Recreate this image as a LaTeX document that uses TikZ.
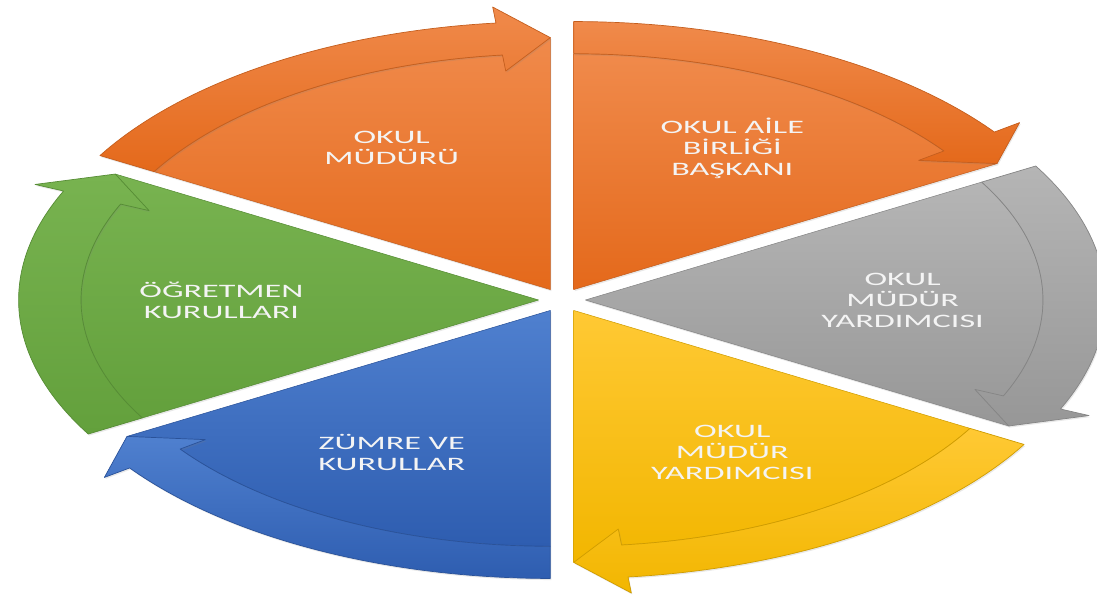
\documentclass[tikz,border=0pt]{standalone}
\usepackage{fontspec}
\usetikzlibrary{shadows}
\newfontfamily\wedgefont[FakeStretch=1.8]{Carlito}
\definecolor{or-top}{HTML}{F08A4B}\definecolor{or-bot}{HTML}{E4691B}\definecolor{or-line}{HTML}{C45E1E}
\definecolor{gy-top}{HTML}{B5B5B5}\definecolor{gy-bot}{HTML}{979797}\definecolor{gy-line}{HTML}{858585}
\definecolor{ye-top}{HTML}{FFC934}\definecolor{ye-bot}{HTML}{F2B600}\definecolor{ye-line}{HTML}{CF9C00}
\definecolor{bl-top}{HTML}{4F80CF}\definecolor{bl-bot}{HTML}{2E5DB0}\definecolor{bl-line}{HTML}{2A5299}
\definecolor{gr-top}{HTML}{78B350}\definecolor{gr-bot}{HTML}{63A03C}\definecolor{gr-line}{HTML}{568C35}
\definecolor{textwhite}{HTML}{F4F4F4}
\begin{document}
\begin{tikzpicture}[line join=round, line cap=round,
  wedgetext/.style={text=textwhite, align=center, font=\wedgefont\fontsize{10.8}{11.9}\selectfont},
  softshadow/.style={drop shadow={opacity=0.18, shadow xshift=0.6pt, shadow yshift=-0.9pt}}]
  \useasboundingbox (0,0) rectangle (21.94,12.08);
  \begin{scope}[shift={(11.24,6.08)}, xscale=10.4, yscale=5.36]
    \foreach \s/\b/\c/\t/\n in {150/120/or/{OKUL\\MÜDÜRÜ}/mudur,
        90/60/or/{OKUL AİLE\\BİRLİĞİ\\BAŞKANI}/aile,
        30/0/gy/{OKUL\\MÜDÜR\\YARDIMCISI}/yardA,
        -30/-60/ye/{OKUL\\MÜDÜR\\YARDIMCISI}/yardB,
        -90/-120/bl/{ZÜMRE VE\\KURULLAR}/zumre,
        -150/-180/gr/{ÖĞRETMEN\\KURULLARI}/ogretmen}{
      \pgfmathsetmacro\e{\s-60}
      \pgfmathsetmacro\h{\s-54}
      \begin{scope}[shift={(\b:0.045)}]
        % wedge body
        \path[softshadow, top color=\c-top, bottom color=\c-bot, draw=\c-line, line width=0.3pt]
          (0,0) -- (\s:0.88) arc[start angle=\s, end angle=\h, radius=0.88] -- (\e:0.94) -- cycle;
        % curved arrow on the rim
        \path[softshadow, top color=\c-top, bottom color=\c-bot, draw=\c-line, line width=0.4pt]
          (\s:0.88) -- (\s:1) arc[start angle=\s, end angle=\h, radius=1]
          -- (\h:1.06) -- (\e:0.94) -- (\h:0.82) -- (\h:0.88)
          arc[start angle=\h, end angle=\s, radius=0.88] -- cycle;
        \node[wedgetext] (\n) at (\b:0.61) {\t};
      \end{scope}
    }
  \end{scope}
\end{tikzpicture}
\end{document}
